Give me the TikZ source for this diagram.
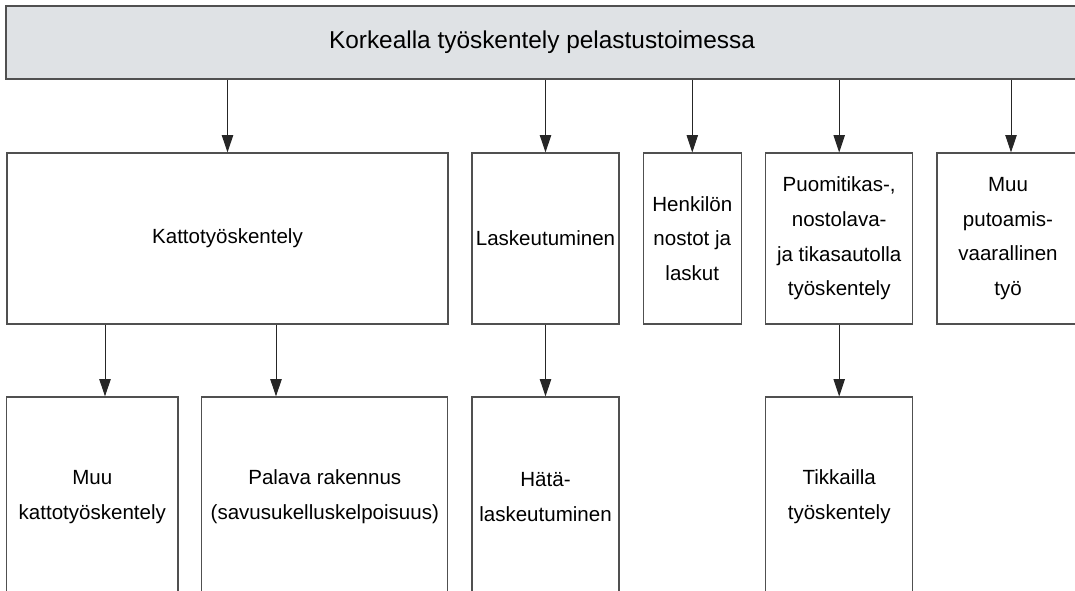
\documentclass[tikz,border=0pt]{standalone}
\usepackage{fontspec}
\setmainfont{Liberation Sans}
\usetikzlibrary{arrows.meta}
\definecolor{barfill}{HTML}{DFE2E5}
\definecolor{edge}{HTML}{505050}
\tikzset{
  box/.style={draw=edge, line width=0.8pt, fill=white, align=center, inner sep=0pt,
    font=\fontsize{15.4}{26}\selectfont},
  topbar/.style={draw=edge, line width=0.8pt, fill=barfill, align=center, inner sep=0pt,
    font=\fontsize{18.3}{22}\selectfont},
  arr/.style={draw=black!85, line width=0.75pt, -{Triangle[length=13pt,width=8.5pt]}}
}
\begin{document}
\begin{tikzpicture}[x=0.75pt,y=-0.75pt]
\useasboundingbox (0,0) rectangle (1075,591);
\clip (0,0) rectangle (1075,591);
% top bar
\node[topbar, minimum width=804pt, minimum height=54.75pt] (top) at (542,42.5) {Korkealla työskentely pelastustoimessa};
% row 1
\node[box, minimum width=330.75pt, minimum height=128.25pt] (kat) at (227.5,238.5) {Kattotyöskentely};
\node[box, minimum width=110.25pt, minimum height=128.25pt] (las) at (545.5,238.5) {Laskeutuminen};
\node[box, minimum width=73.1pt, minimum height=128.25pt] (hen) at (692.3,238.5) {Henkilön\\nostot ja\\laskut};
\node[box, minimum width=110.25pt, minimum height=128.25pt] (puo) at (839.2,238.5) {Puomitikas-,\\nostolava-\\ja tikasautolla\\työskentely};
\node[box, minimum width=106.5pt, minimum height=128.25pt] (muu) at (1008,238.5) {Muu\\putoamis-\\vaarallinen\\työ};
% row 2
\node[box, minimum width=128.5pt, minimum height=150pt] (muuk) at (92.3,497) {Muu\\kattotyöskentely};
\node[box, minimum width=184.3pt, minimum height=150pt] (pal) at (324.8,497) {Palava rakennus\\(savusukelluskelpoisuus)};
\node[box, minimum width=110.25pt, minimum height=150pt] (hat) at (545.5,497) {Hätä-\\laskeutuminen};
\node[box, minimum width=110.25pt, minimum height=150pt] (tik) at (839.2,497) {Tikkailla\\työskentely};
% arrow columns
\coordinate (c1) at (105,0);
\coordinate (c2) at (276,0);
\coordinate (c3) at (1011,0);
% connectors
\draw[arr] (top.south -| kat.north) -- (kat.north);
\draw[arr] (top.south -| las.north) -- (las.north);
\draw[arr] (top.south -| hen.north) -- (hen.north);
\draw[arr] (top.south -| puo.north) -- (puo.north);
\draw[arr] (top.south -| c3) -- (muu.north -| c3);
\draw[arr] (kat.south -| c1) -- (muuk.north -| c1);
\draw[arr] (kat.south -| c2) -- (pal.north -| c2);
\draw[arr] (las.south) -- (hat.north);
\draw[arr] (puo.south) -- (tik.north);
\end{tikzpicture}
\end{document}
